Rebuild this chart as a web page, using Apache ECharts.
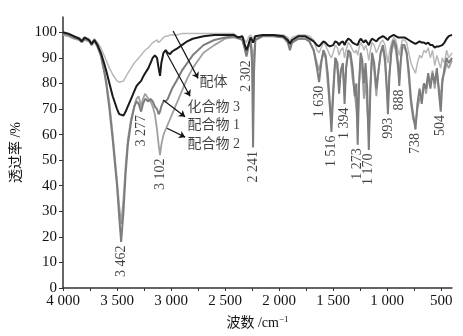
<!DOCTYPE html>
<html lang="zh">
<head>
<meta charset="UTF-8">
<title>红外光谱</title>
<script src="https://cdn.jsdelivr.net/npm/echarts@6/dist/echarts.min.js"></script>
<style>
  html, body { margin: 0; padding: 0; background: #fff; }
  #main { width: 463px; height: 336px; }
</style>
</head>
<body>
<div id="main"></div>
<script>
// 波数 /cm-1
var wn = [4000,3950,3900,3850,3827,3800,3760,3735,3710,3680,
  3650,3620,3600,3570,3540,3500,3480,3462,3440,3420,
  3400,3370,3340,3320,3300,3277,3260,3240,3210,3190,
  3170,3150,3130,3115,3102,3090,3070,3050,3030,3010,
  2990,2950,2900,2850,2800,2700,2600,2500,2420,2380,
  2340,2320,2302,2285,2265,2250,2241,2232,2220,2150,
  2050,1960,1920,1900,1880,1820,1760,1720,1680,1650,
  1630,1610,1590,1570,1550,1530,1516,1500,1480,1460,
  1445,1430,1410,1394,1380,1360,1340,1320,1300,1285,
  1273,1260,1245,1230,1215,1200,1185,1170,1155,1140,
  1120,1100,1080,1060,1040,1020,1005,993,980,960,
  940,920,900,888,875,860,840,820,800,780,
  760,738,720,700,680,660,640,620,600,580,
  560,540,520,504,490,470,450,430,400];

// 透过率 /%
var peiti = [100,99,98.5,98,97,98,97.5,96,97.5,96,
  94,91,89,86,83.5,81,80.5,80.5,81,82.5,
  84,86,88,89,90,91,92,93,94,95,
  96,96.5,97,96,95.5,97,98,98.5,98.5,99,
  99,99,99.5,99.5,99.5,99.5,99.5,99.5,99.5,98,
  98.5,97,96,98,99,98,97,98.5,99,99,
  99,99,98,96.5,98,99,99,98.5,97,93,
  92,94,96,95,93,91,90,92,95,94,
  91,93,94,90,93,96,95,93,92,93,
  91,94,96,95,93,95,93,89,93,96,
  95,92,94,96,97,95,91,88,92,96,
  98,97,93,91,94,97,97,96,92,88,
  86,84,88,91,90,93,92,94,90,93,
  87,91,88,86,90,88,93,90,92];

var huahewu3 = [100,99.5,98.5,97.5,96.5,98,97,95.5,97,95,
  92,88,85,80,75,70,68,67.5,67.5,69,
  71,74,77,79,80,81,82.5,84,86,88,
  90,91,90,86,83,88,92,93,92,91.5,
  92.5,93.5,95,96.5,97.5,98.5,99,99,99,98,
  98.5,95.5,93,95,98,97,96,97,98.5,99,
  99,98.5,97,95.5,97,98.5,98.5,97.5,96.5,95,
  94.5,95.5,96.5,96,95,94.5,94,95,96.5,96,
  95,96,96.5,95,96.5,97.5,97,96,95.5,96,
  95,96.5,97.5,97,96,97,96,95,96.5,97.5,
  97,96.5,97.5,98,98.5,98,97.5,97,98,98.5,
  99,98.5,98,97.5,98,98.5,98,97.5,97,96.5,
  96,95.5,96,96.5,96,96,95.5,96,95,95,
  94,94.5,94.5,94,95,96,97.5,98.5,99];

var peihewu1 = [99.5,99,98,97.5,96.5,97.5,97,95,97,94.5,
  91,85,80,70,58,40,28,18,30,45,
  56,65,71,73,72,69,72,74,73,74,
  73,71,70,68,69,71,73,73,74,76,
  78,81,85,88,91,95,97,98,98.5,98,
  97,94,90.5,94,97,88,55,85,97,98.5,
  98.5,98,96,93,96,97.5,97.5,96.5,93,86,
  80.5,88,93,91,84,72,61,75,90,88,
  76,85,88,72,86,93,92,86,75,80,
  56,80,92,89,80,88,78,54,78,92,
  88,78,85,92,95,90,80,68,82,94,
  97,95,88,79,88,95,95,92,85,74,
  68,62,72,78,72,80,78,84,78,84,
  80,86,76,69,80,86,90,88,90];

var peihewu2 = [99,98.5,97.5,97,96,97,96.5,95,96.5,94,
  91,85,81,72,60,42,32,25,35,48,
  58,66,71,74,75,71,74,76,74,73,
  71,68,62,56,52,56,60,62,64,66,
  68,72,77,82,86,92,95,97.5,98,97.5,
  97,94,92,95,97,93,75,92,97.5,98.5,
  98.5,98,96.5,94.5,96.5,97.5,97.5,96.5,93,88,
  85,89,92,90,80,70,66,78,90,85,
  78,84,86,77,86,92,90,82,76,70,
  62,80,90,84,74,82,70,60,80,91,
  85,75,85,92,94,88,78,72,84,92,
  96,93,86,82,89,94,94,92,82,72,
  66,64,70,74,75,80,76,82,80,85,
  78,84,78,74,82,84,88,86,89];

// 标注的峰位
var peaks = [3462, 3277, 3102, 2302, 2241, 1630, 1516, 1394, 1273, 1170, 993, 888, 738, 504];

var xTickLabels = [4000, 3500, 3000, 2500, 2000, 1500, 1000, 500];
var xTicks = [4000, 3750, 3500, 3250, 3000, 2750, 2500, 2250, 2000, 1750, 1500, 1250, 1000, 750, 500];
var yTicks = [0, 10, 20, 30, 40, 50, 60, 70, 80, 90, 100];

// 图例箭头（起点 -> 终点，数据坐标）与文字
var arrowFrom = [[2981, 100.5], [3056, 93], [3074, 73.5], [3037, 62.5]];
var arrowTo = [[2750, 82], [2824, 75], [2870, 67], [2870, 59]];
var legendNames = ['配体', '化合物 3', '配合物 1', '配合物 2'];
var legendAt = [[2741, 80.6], [2852, 70.8], [2852, 63.7], [2852, 56.2]];

var FONT = "'Liberation Serif', 'Noto Sans CJK SC', serif";

function fmtWn(v) {
    if (v >= 1000) {
        return Math.floor(v / 1000) + ' ' + String(v % 1000).padStart(3, '0');
    }
    return String(v);
}

function pairs(ys) {
    return wn.map(function (x, i) { return [x, ys[i]]; });
}

var allSeries = [peiti, huahewu3, peihewu1, peihewu2];
var peakData = peaks.map(function (p) {
    var i = wn.indexOf(p);
    var m = Math.min.apply(null, allSeries.map(function (s) { return s[i]; }));
    return [p, m];
});

var myChart = echarts.init(document.getElementById('main'));

var lineBase = { type: 'line', symbol: 'none', smooth: false, silent: true };

myChart.setOption({
    animation: false,
    grid: { left: 63, right: 11, top: 17, bottom: 48, containLabel: false, outerBoundsMode: 'none' },
    xAxis: {
        type: 'value',
        min: 400,
        max: 4000,
        inverse: true,
        name: '{a|波数 /cm}{s|−1}',
        nameLocation: 'middle',
        nameGap: 27,
        nameTextStyle: {
            rich: {
                a: { fontFamily: FONT, fontSize: 14, color: '#111' },
                s: { fontFamily: FONT, fontSize: 9, color: '#111', padding: [0, 0, 8, 0] }
            }
        },
        axisLine: { lineStyle: { color: '#333', width: 1.5 } },
        axisTick: { length: 3, customValues: xTicks, lineStyle: { color: '#333' } },
        axisLabel: {
            customValues: xTickLabels,
            formatter: fmtWn,
            fontFamily: FONT, fontSize: 15, color: '#111', margin: 6
        },
        splitLine: { show: false }
    },
    yAxis: {
        type: 'value',
        min: 0,
        max: 106,
        name: '透过率 /%',
        nameLocation: 'middle',
        nameGap: 32,
        nameTextStyle: { fontFamily: FONT, fontSize: 14, color: '#111' },
        axisLine: { show: true, lineStyle: { color: '#333', width: 1.5 } },
        axisTick: { show: true, length: 4, customValues: yTicks, lineStyle: { color: '#333' } },
        axisLabel: {
            customValues: yTicks,
            fontFamily: FONT, fontSize: 15, color: '#111', margin: 6
        },
        splitLine: { show: false }
    },
    series: [
        Object.assign({}, lineBase, {
            name: '配体', data: pairs(peiti), z: 2,
            lineStyle: { color: '#b8b8b8', width: 1.5 }
        }),
        Object.assign({}, lineBase, {
            name: '配合物 2', data: pairs(peihewu2), z: 3,
            lineStyle: { color: '#a0a0a0', width: 1.8 }
        }),
        Object.assign({}, lineBase, {
            name: '配合物 1', data: pairs(peihewu1), z: 4,
            lineStyle: { color: '#7d7d7d', width: 2 }
        }),
        Object.assign({}, lineBase, {
            name: '化合物 3', data: pairs(huahewu3), z: 5,
            lineStyle: { color: '#1a1a1a', width: 2 },
            markLine: {
                silent: true,
                symbol: ['none', 'arrow'],
                symbolSize: 6,
                label: { show: false },
                lineStyle: { color: '#111', width: 1.2, type: 'solid' },
                data: arrowFrom.map(function (f, i) {
                    return [{ coord: f }, { coord: arrowTo[i] }];
                })
            }
        }),
        {
            type: 'scatter', name: 'peaks', silent: true, z: 6,
            symbolSize: 1,
            itemStyle: { color: 'transparent' },
            data: peakData,
            label: {
                show: true,
                position: 'bottom',
                distance: 3,
                rotate: 90,
                align: 'right',
                verticalAlign: 'middle',
                fontFamily: FONT, fontSize: 14, color: '#111',
                formatter: function (p) { return fmtWn(p.value[0]); }
            }
        },
        {
            type: 'scatter', name: 'names', silent: true, z: 6,
            symbolSize: 1,
            itemStyle: { color: 'transparent' },
            data: legendAt.map(function (c, i) { return { value: c, name: legendNames[i] }; }),
            label: {
                show: true,
                position: 'right',
                distance: 0,
                fontFamily: FONT, fontSize: 14, color: '#111',
                formatter: function (p) { return p.name; }
            }
        }
    ]
});
</script>
</body>
</html>
